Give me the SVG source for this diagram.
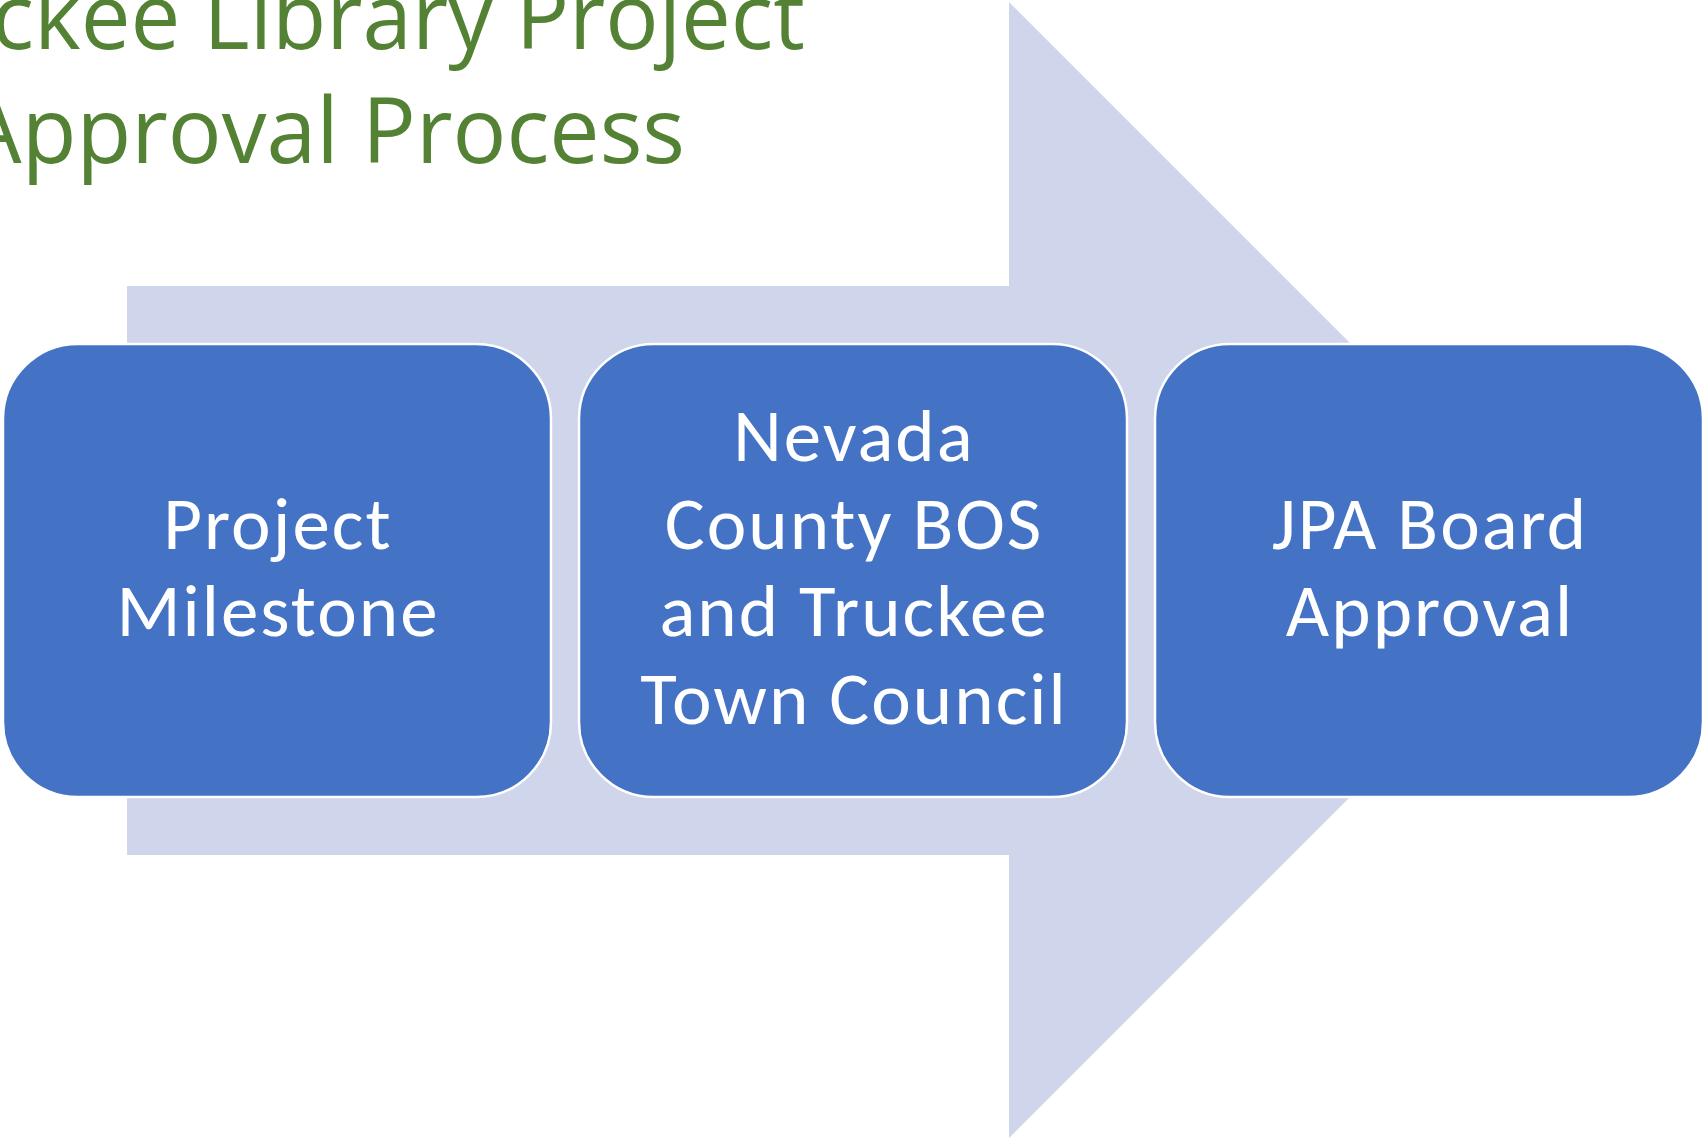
<svg xmlns="http://www.w3.org/2000/svg" width="1705" height="1141" viewBox="0 0 1705 1141">
<style>
.title{font-family:"Open Sans","Noto Sans",sans-serif;font-size:92px;fill:#548235;}
.box{fill:#4472C4;stroke:#FFFFFF;stroke-width:2.5;}
.lbl{font-family:Carlito,Calibri,Lato,sans-serif;font-size:75px;letter-spacing:2px;fill:#FFFFFF;text-anchor:middle;}
</style>
<rect width="1705" height="1141" fill="#FFFFFF"/>
<g id="title">
<text class="title" x="805" y="49" text-anchor="end" textLength="953" lengthAdjust="spacingAndGlyphs">Truckee Library Project</text>
<text class="title" x="685" y="163" text-anchor="end" textLength="720" lengthAdjust="spacingAndGlyphs">Approval Process</text>
</g>
<g id="connectors">
<polygon points="127,286 1009,286 1009,2 1577,570 1009,1138 1009,855 127,855" fill="#CFD5EA"/>
</g>
<g id="node1">
<rect class="box" x="3" y="344" width="548" height="453" rx="75" ry="75"/>
<text class="lbl" x="278" y="549">Project</text>
<text class="lbl" x="278" y="636">Milestone</text>
</g>
<g id="node2">
<rect class="box" x="579" y="344" width="548" height="453" rx="75" ry="75"/>
<text class="lbl" x="854" y="461">Nevada</text>
<text class="lbl" x="854" y="549">County BOS</text>
<text class="lbl" x="854" y="636">and Truckee</text>
<text class="lbl" x="854" y="724">Town Council</text>
</g>
<g id="node3">
<rect class="box" x="1155" y="344" width="548" height="453" rx="75" ry="75"/>
<text class="lbl" x="1430" y="549">JPA Board</text>
<text class="lbl" x="1430" y="636">Approval</text>
</g>
</svg>
